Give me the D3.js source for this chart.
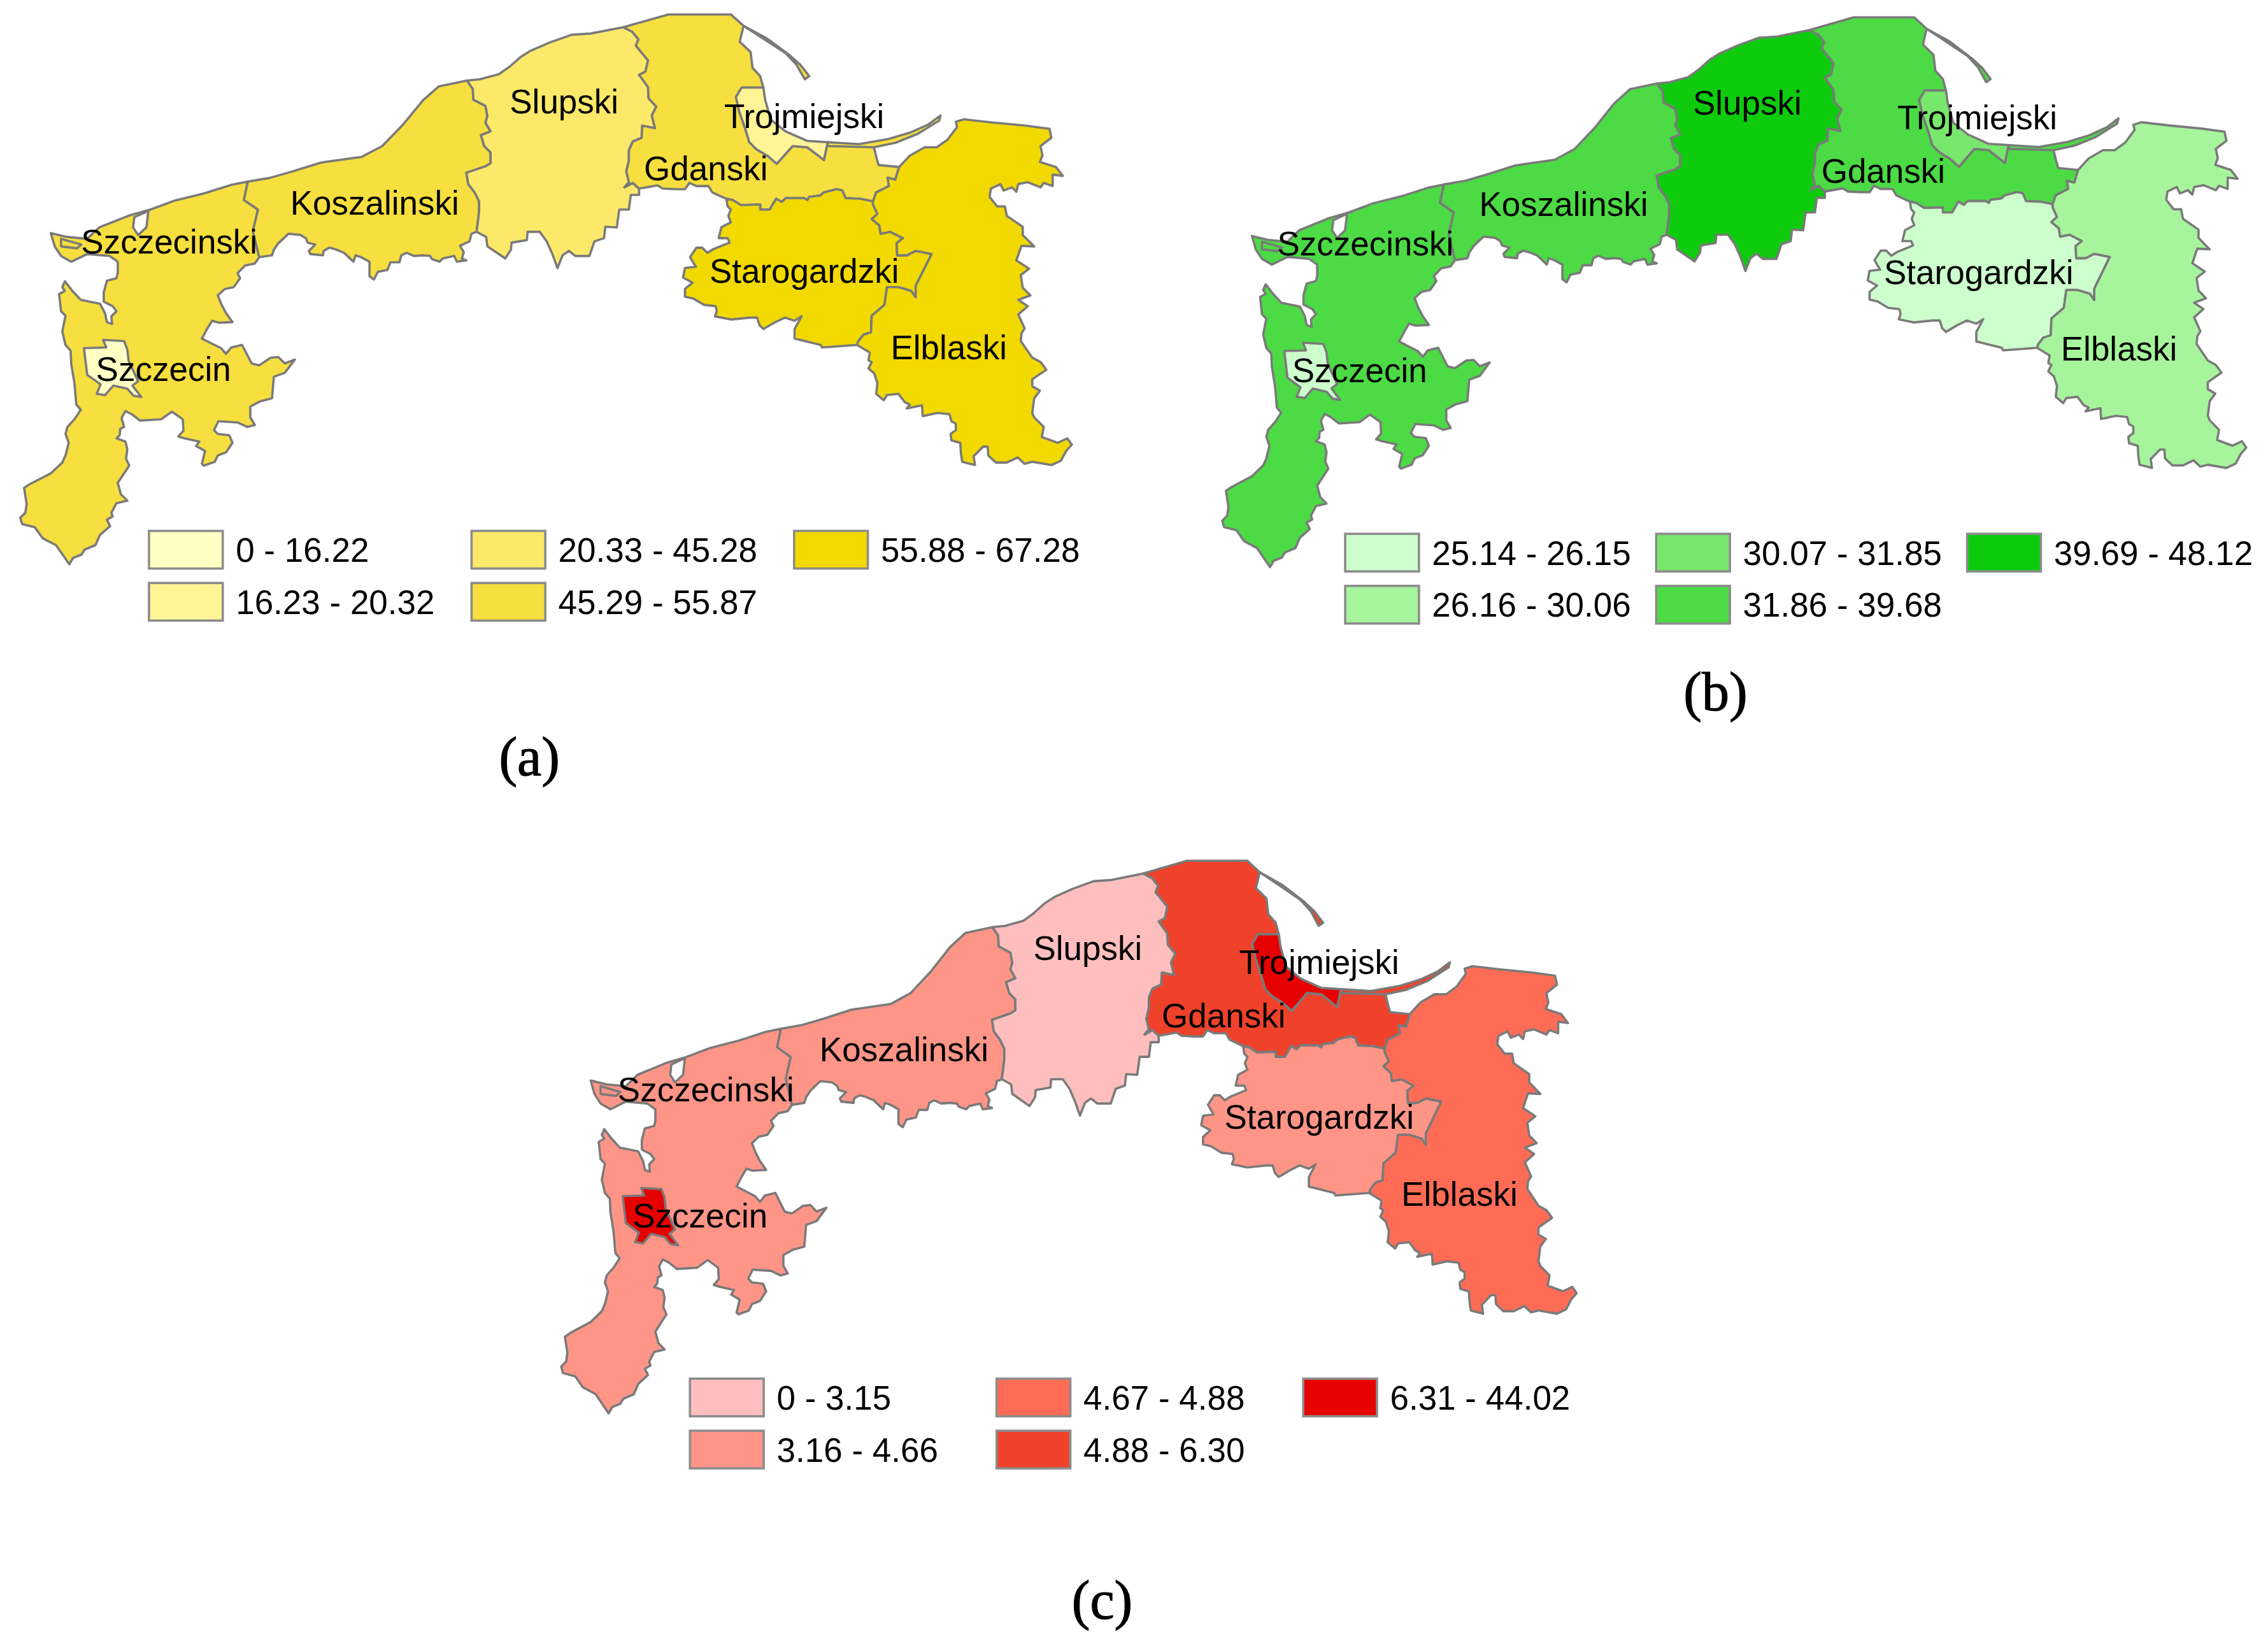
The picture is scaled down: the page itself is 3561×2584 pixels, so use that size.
<!DOCTYPE html>
<html>
<head>
  <meta charset="utf-8">
  <title>Regions</title>
  <style>
  body { margin: 0; background: #fff; }
  .region { stroke: #7a7a7a; stroke-width: 3.6; stroke-linejoin: round; }
  .label, .legendText { font-family: "Liberation Sans", Arial, sans-serif; fill: #000; }
  .label { font-size: 53px; text-anchor: middle; }
  .legendText { font-size: 53px; }
  .caption { font-family: "Liberation Serif", serif; font-size: 86px; text-anchor: middle; fill: #000; stroke: #000; stroke-width: 1.2; }
  .swatch { stroke: #8c8c8c; stroke-width: 3.6; }
  </style>
</head>
<body>
  <script src="https://cdn.jsdelivr.net/npm/d3@7"></script>
  <script>
    const W = 3561, H = 2584;

    const regions = ["Szczecinski", "Szczecin", "Koszalinski", "Slupski", "Gdanski", "Trojmiejski", "Starogardzki", "Elblaski"];

    // class of each region (index into the legend), same order as regions
    const classesA = [3, 0, 3, 2, 3, 1, 4, 4];
    const classesB = [3, 0, 3, 4, 3, 2, 0, 1];
    const classesC = [1, 4, 1, 0, 3, 4, 1, 2];

    const legendA = ["0 - 16.22", "16.23 - 20.32", "20.33 - 45.28", "45.29 - 55.87", "55.88 - 67.28"];
    const legendB = ["25.14 - 26.15", "26.16 - 30.06", "30.07 - 31.85", "31.86 - 39.68", "39.69 - 48.12"];
    const legendC = ["0 - 3.15", "3.16 - 4.66", "4.67 - 4.88", "4.88 - 6.30", "6.31 - 44.02"];

    const coloursA = ["#ffffc4", "#fff596", "#fce969", "#f6df3e", "#f2d900"];
    const coloursB = ["#ccffcc", "#a6f59c", "#78e76c", "#4cda45", "#0ecb0e"];
    const coloursC = ["#ffbebe", "#ff9587", "#ff6c55", "#f0422b", "#e60000"];

    const borderSzK = [[389,286],[383,315],[405,330],[397,364],[407,405]];
    const borderKS = [[733,127],[742,140],[743,157],[762,167],[765,183],[762,193],[770,207],[755,213],[760,230],[770,240],[770,257],[762,262],[732,272],[735,290],[745,303],[752,317],[752,333],[750,350],[748,365]];
    const borderSG = [[978,43],[992,50],[1002,62],[998,72],[1007,83],[1017,95],[1013,113],[1003,118],[1017,137],[1018,155],[1030,168],[1023,182],[1028,202],[1008,198],[1007,217],[993,223],[987,237],[987,253],[983,270],[987,287],[980,295],[993,288],[1003,297]];
    const borderGSt = [[1370,317],[1350,313],[1327,312],[1322,300],[1313,298],[1293,303],[1287,308],[1270,310],[1267,315],[1262,312],[1233,312],[1227,318],[1218,313],[1208,330],[1193,330],[1193,322],[1163,323],[1150,315],[1140,313]];
    const borderGE = [[1370,317],[1375,303],[1395,293],[1393,280],[1405,283],[1411,263]];
    const borderStE = [[1345,543],[1347,537],[1355,527],[1367,523],[1368,497],[1388,480],[1392,452],[1410,452],[1430,458],[1437,468],[1437,450],[1462,400],[1437,395],[1423,402],[1408,402],[1407,383],[1417,375],[1397,365],[1382,368],[1380,355],[1368,345],[1377,337],[1370,322],[1370,317]];
    const borderGT = [[1198,138],[1164,138],[1155,153],[1160,175],[1170,204],[1176,224],[1187,235],[1204,245],[1219,258],[1244,230],[1267,232],[1293,252],[1299,224]];

    const rev = a => a.slice().reverse();

    const shapes = {
      Szczecinski: [
        [[389,286],[364,291],[319,305],[274,316],[236,330],[204,339],[156,358],[137,376],[105,373],[80,367],[86,388],[96,403],[112,412],[137,400],[172,403],[185,412],[185,430],[183,438],[168,442],[163,460],[163,475],[177,482],[183,490],[175,498],[176,510],[168,507],[165,493],[157,478],[127,472],[113,457],[102,443],[98,452],[102,458],[93,463],[96,490],[103,497],[98,522],[103,543],[111,552],[112,573],[117,603],[120,637],[127,645],[117,660],[106,672],[103,683],[108,697],[103,717],[98,728],[80,745],[47,762],[38,768],[42,793],[40,807],[32,815],[35,825],[55,830],[67,847],[88,858],[109,888],[115,878],[128,873],[133,865],[150,858],[157,842],[173,828],[168,818],[177,813],[175,807],[183,792],[200,788],[190,778],[185,760],[193,748],[203,733],[198,722],[200,707],[197,695],[183,690],[188,685],[189,675],[195,672],[191,658],[197,647],[207,652],[220,662],[253,660],[270,648],[287,660],[288,678],[280,687],[290,690],[313,695],[308,702],[322,710],[317,730],[320,733],[337,727],[342,717],[355,712],[365,697],[360,685],[342,683],[336,677],[343,663],[373,665],[388,672],[400,669],[393,657],[393,640],[408,632],[427,627],[430,593],[447,587],[463,566],[447,572],[437,562],[425,563],[407,575],[395,572],[380,543],[363,547],[355,557],[347,548],[317,533],[325,518],[333,505],[343,508],[365,507],[355,493],[348,480],[342,465],[353,455],[367,452],[377,438],[373,430],[385,418],[400,415],[407,405],...rev(borderSzK)],
        [[96,376],[128,385],[121,391],[96,388]]
      ],
      Szczecin: [
        [[162,535],[195,537],[200,550],[202,568],[217,600],[208,607],[222,625],[210,623],[200,612],[178,607],[165,622],[152,620],[158,605],[137,590],[135,573],[132,548],[167,547]]
      ],
      Koszalinski: [
        [[389,286],[424,280],[459,270],[504,256],[568,247],[600,230],[632,197],[664,158],[689,136],...borderKS,[740,368],[737,380],[722,387],[728,397],[725,407],[732,410],[717,412],[713,403],[695,407],[690,412],[678,408],[675,403],[663,402],[650,403],[638,398],[630,402],[627,413],[613,413],[608,425],[593,428],[587,440],[580,435],[580,412],[567,405],[558,402],[555,412],[540,398],[528,393],[517,390],[508,395],[507,402],[487,400],[485,395],[495,385],[483,382],[480,375],[472,370],[453,368],[437,383],[430,393],[427,402],...rev(borderSzK)]
      ],
      Slupski: [
        [[733,127],[753,125],[783,117],[800,105],[817,90],[833,80],[863,67],[897,55],[927,53],...borderSG,[1003,307],[990,307],[987,330],[972,330],[968,358],[950,357],[948,375],[933,380],[925,403],[903,403],[893,395],[883,402],[875,422],[867,400],[858,380],[847,365],[828,365],[827,378],[803,382],[802,393],[793,407],[765,388],[763,373],...rev(borderKS)]
      ],
      Gdanski: [
        [[978,43],[1049,23],[1147,23],[1167,41],[1161,66],[1178,82],[1181,107],[1193,120],...borderGT,[1299,230],[1371,230],[1376,250],[1379,260],...rev(borderGE),...borderGSt,[1118,303],[1112,293],[1093,293],[1082,288],[1075,298],[1060,298],[1040,297],[1032,292],...rev(borderSG)],
        [[1167,41],[1204,61],[1239,87],[1256,102],[1270,120],[1263,125],[1250,102],[1233,84],[1198,61]],
        [[1299,224],[1348,227],[1394,219],[1428,209],[1457,196],[1476,182],[1474,190],[1440,211],[1405,225],[1371,232],[1299,230]]
      ],
      Trojmiejski: [
        [...borderGT,[1267,222],[1233,207],[1210,189],[1201,158]]
      ],
      Starogardzki: [
        [...borderGSt,[1142,325],[1147,330],[1143,340],[1147,350],[1132,358],[1128,375],[1142,375],[1145,382],[1130,388],[1120,392],[1110,398],[1102,390],[1093,390],[1083,405],[1092,420],[1075,422],[1072,437],[1087,445],[1075,455],[1075,467],[1088,470],[1105,480],[1123,482],[1125,490],[1122,498],[1147,503],[1177,500],[1188,500],[1192,512],[1198,518],[1217,507],[1232,500],[1247,505],[1258,498],[1247,518],[1247,533],[1288,543],[1290,547],...borderStE]
      ],
      Elblaski: [
        [...borderGE,[1428,245],[1451,232],[1470,232],[1487,220],[1502,200],[1500,192],[1513,188],[1557,193],[1610,198],[1647,203],[1650,217],[1633,230],[1636,245],[1632,255],[1657,263],[1668,277],[1652,275],[1652,293],[1638,288],[1633,295],[1613,287],[1598,290],[1595,302],[1588,295],[1575,300],[1570,290],[1555,297],[1553,310],[1565,325],[1577,325],[1580,340],[1605,357],[1605,370],[1623,388],[1603,387],[1595,410],[1615,423],[1602,433],[1605,453],[1617,465],[1598,472],[1613,482],[1598,495],[1608,517],[1603,525],[1602,537],[1620,563],[1633,570],[1642,582],[1620,597],[1620,608],[1632,615],[1623,627],[1620,650],[1623,657],[1638,672],[1635,688],[1660,697],[1675,690],[1682,700],[1673,710],[1665,725],[1650,732],[1620,727],[1608,730],[1597,720],[1580,728],[1563,728],[1551,717],[1550,703],[1543,703],[1528,718],[1530,732],[1510,727],[1508,713],[1507,697],[1493,693],[1492,683],[1500,677],[1500,667],[1493,663],[1490,652],[1472,650],[1448,655],[1447,638],[1423,643],[1428,637],[1420,633],[1410,620],[1392,622],[1387,630],[1375,620],[1377,603],[1372,588],[1363,580],[1368,570],[1363,567],[1365,555],...borderStE]
      ]
    };
    // small white gaps on the coast of Szczecinski
    const gaps = [[[211,342],[233,332],[230,358],[217,370],[209,358]]];

    // label anchors, in the 1568-wide layout grid
    const labelsA = [[117,167],[113,255],[259,140],[390,70],[488,116],[556,80],[556,187],[656,240]];
    const labelsB = [[944,168],[940,256],[1081,141],[1208,71],[1302,118],[1367,81],[1368,188],[1465,241]];
    const labelsC = [[488,753],[484,840],[625,725],[752,655],[846,702],[912,665],[912,772],[1009,825]];

    const grid = d3.scaleLinear().domain([0, 1568]).range([0, W]);

    const svg = d3.select("body").append("svg")
      .attr("width", W)
      .attr("height", H)
      .attr("viewBox", `0 0 ${W} ${H}`)
      .style("display", "block");

    const panels = [
      { classes: classesA, legend: legendA, colours: coloursA, labels: labelsA, cap: "(a)", capAt: [366, 536],
        xr: [14, 741], yr: [10, 390], legendX: [103, 326, 549], legendY: [367, 403] },
      { classes: classesB, legend: legendB, colours: coloursB, labels: labelsB, cap: "(b)", capAt: [1186, 491],
        xr: [845, 1553], yr: [12, 392], legendX: [930, 1145, 1360], legendY: [369, 405] },
      { classes: classesC, legend: legendC, colours: coloursC, labels: labelsC, cap: "(c)", capAt: [762, 1119],
        xr: [388, 1090], yr: [595, 977], legendX: [477, 689, 901], legendY: [953, 989] }
    ];

    const drawPanel = p => {
      const g = svg.append("g");
      const x = d3.scaleLinear().domain([32, 1682]).range(p.xr.map(grid));
      const y = d3.scaleLinear().domain([23, 888]).range(p.yr.map(grid));
      const line = d3.line().x(d => x(d[0])).y(d => y(d[1])).curve(d3.curveLinearClosed);

      regions.forEach((name, i) => {
        g.append("g").selectAll("path")
          .data(shapes[name])
          .enter()
          .append("path")
          .attr("class", "region")
          .attr("fill", p.colours[p.classes[i]])
          .attr("d", line);
      });
      g.append("g").selectAll("path")
        .data(gaps)
        .enter()
        .append("path")
        .attr("class", "region")
        .attr("fill", "#fff")
        .attr("d", line);

      g.append("g").selectAll("text")
        .data(regions)
        .enter()
        .append("text")
        .attr("class", "label")
        .attr("x", (d, i) => grid(p.labels[i][0]))
        .attr("y", (d, i) => grid(p.labels[i][1]))
        .attr("dy", "0.36em")
        .text(d => d);

      // legend fills columns top to bottom, two rows each
      const items = g.append("g").selectAll("g")
        .data(p.legend)
        .enter()
        .append("g")
        .attr("transform", (d, i) => `translate(${grid(p.legendX[Math.floor(i / 2)])},${grid(p.legendY[i % 2])})`);
      items.append("rect")
        .attr("class", "swatch")
        .attr("width", grid(51))
        .attr("height", grid(26))
        .attr("fill", (d, i) => p.colours[i]);
      items.append("text")
        .attr("class", "legendText")
        .attr("x", grid(60))
        .attr("y", grid(13))
        .attr("dy", "0.36em")
        .text(d => d);

      g.append("text")
        .attr("class", "caption")
        .attr("x", grid(p.capAt[0]))
        .attr("y", grid(p.capAt[1]))
        .text(p.cap);
    };

    panels.forEach(drawPanel);
  </script>
</body>
</html>
